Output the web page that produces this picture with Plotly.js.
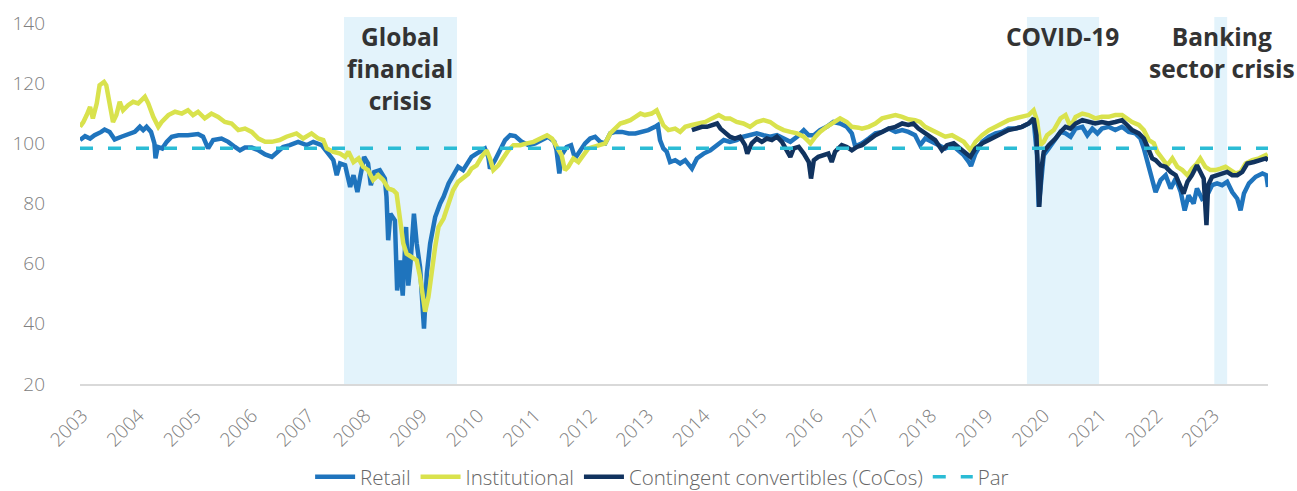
<!DOCTYPE html>
<html>
<head>
<meta charset="utf-8">
<script src="https://cdn.plot.ly/plotly-3.0.1.min.js"></script>
<style>
html,body{margin:0;padding:0;background:#fff;}
#chart{width:1297px;height:491px;}
</style>
</head>
<body>
<div id="chart"></div>
<script>
// ---- data (decimal years, index values) ----
const retailDates = [2003.05,2003.14,2003.23,2003.31,2003.43,2003.49,2003.58,2003.67,2003.79,2003.91,2004.03,2004.12,2004.18,2004.24,2004.32,2004.38,2004.40,2004.44,2004.52,2004.60,2004.69,2004.81,2004.98,2005.16,2005.25,2005.34,2005.43,2005.58,2005.70,2005.82,2005.91,2006.00,2006.12,2006.24,2006.36,2006.48,2006.57,2006.68,2006.80,2006.95,2007.10,2007.22,2007.37,2007.49,2007.58,2007.64,2007.70,2007.79,2007.88,2007.94,2008.01,2008.06,2008.13,2008.20,2008.25,2008.31,2008.41,2008.50,2008.53,2008.56,2008.60,2008.68,2008.72,2008.77,2008.82,2008.88,2008.92,2008.96,2009.02,2009.07,2009.13,2009.20,2009.25,2009.31,2009.40,2009.49,2009.55,2009.64,2009.72,2009.81,2009.90,2009.99,2010.05,2010.14,2010.23,2010.29,2010.35,2010.38,2010.47,2010.56,2010.65,2010.74,2010.83,2010.95,2011.07,2011.19,2011.31,2011.42,2011.53,2011.57,2011.62,2011.66,2011.75,2011.83,2011.90,2011.99,2012.08,2012.17,2012.26,2012.35,2012.44,2012.53,2012.62,2012.74,2012.86,2012.98,2013.10,2013.21,2013.33,2013.38,2013.42,2013.48,2013.54,2013.60,2013.69,2013.78,2013.87,2013.99,2014.08,2014.20,2014.32,2014.44,2014.56,2014.67,2014.79,2014.91,2015.03,2015.15,2015.27,2015.39,2015.51,2015.63,2015.75,2015.87,2015.99,2016.08,2016.17,2016.28,2016.40,2016.52,2016.64,2016.76,2016.85,2016.91,2017.03,2017.15,2017.27,2017.39,2017.51,2017.63,2017.75,2017.86,2017.98,2018.07,2018.16,2018.28,2018.40,2018.52,2018.64,2018.76,2018.85,2018.94,2018.98,2019.06,2019.18,2019.30,2019.42,2019.53,2019.65,2019.77,2019.89,2020.01,2020.10,2020.16,2020.19,2020.24,2020.28,2020.37,2020.49,2020.58,2020.67,2020.76,2020.85,2020.97,2021.06,2021.15,2021.24,2021.32,2021.44,2021.56,2021.68,2021.80,2021.92,2022.01,2022.07,2022.13,2022.19,2022.28,2022.37,2022.46,2022.55,2022.64,2022.73,2022.80,2022.87,2022.96,2023.02,2023.11,2023.20,2023.29,2023.38,2023.47,2023.56,2023.65,2023.74,2023.80,2023.86,2023.95,2024.07,2024.19,2024.26,2024.29];
const retailValues = [101.1,102.4,101.6,102.7,103.8,104.6,103.8,101.3,102.2,103.1,103.8,105.5,104.4,105.5,103.8,100.0,95.0,98.8,98.3,100.5,102.2,102.7,102.7,103.1,102.2,98.3,101.1,101.6,100.5,98.8,97.7,98.6,98.6,97.7,96.3,95.5,97.2,98.8,99.4,100.5,99.4,100.5,99.4,96.6,94.4,89.4,93.3,92.7,85.5,89.4,83.8,88.9,95.5,93.3,86.1,90.5,91.1,88.3,82.2,67.8,76.6,74.4,51.1,61.1,49.4,72.2,52.7,60.5,76.6,66.7,58.8,38.4,56.6,66.7,75.5,80.0,82.2,86.7,89.4,92.2,91.1,94.0,95.5,96.6,97.7,98.3,95.5,91.6,94.4,97.7,101.1,102.7,102.4,100.5,99.4,100.0,101.1,102.2,100.5,97.7,90.0,96.1,98.8,99.4,95.0,97.7,100.0,101.6,102.2,100.5,100.0,103.3,103.8,103.8,103.3,103.3,103.8,104.4,105.5,106.1,101.1,98.3,97.2,93.8,94.4,93.3,94.4,91.6,95.0,96.6,97.7,99.4,101.1,100.5,101.1,102.2,102.7,103.3,102.7,102.2,102.7,101.6,100.5,102.2,104.4,102.7,102.7,104.4,105.5,107.1,106.6,105.5,103.3,99.0,100.0,101.6,103.3,103.8,104.9,103.8,104.4,103.8,102.7,99.4,101.6,100.5,99.4,98.3,99.4,97.7,96.1,93.8,92.5,96.6,100.5,102.2,103.3,103.8,104.9,104.9,105.5,106.6,107.7,96.1,78.9,88.3,96.1,98.3,101.3,103.8,103.3,102.2,104.9,105.5,102.7,104.9,103.3,104.9,105.5,104.4,105.5,103.8,103.3,101.6,98.3,93.8,90.5,83.8,87.8,89.4,85.0,88.3,83.8,77.7,82.7,80.0,85.0,81.6,82.7,86.1,86.7,86.1,87.2,83.8,81.6,77.7,83.3,86.7,88.9,90.0,89.4,85.5];

const instDates = [2003.05,2003.11,2003.17,2003.23,2003.28,2003.35,2003.40,2003.48,2003.52,2003.58,2003.64,2003.70,2003.76,2003.82,2003.91,2004.00,2004.09,2004.15,2004.21,2004.27,2004.36,2004.45,2004.51,2004.63,2004.75,2004.87,2004.98,2005.07,2005.16,2005.28,2005.40,2005.52,2005.64,2005.76,2005.88,2006.00,2006.12,2006.24,2006.36,2006.48,2006.62,2006.74,2006.92,2007.04,2007.19,2007.31,2007.40,2007.46,2007.58,2007.70,2007.79,2007.85,2007.94,2008.03,2008.11,2008.20,2008.29,2008.38,2008.47,2008.56,2008.65,2008.71,2008.77,2008.83,2008.89,2008.98,2009.07,2009.13,2009.19,2009.22,2009.28,2009.34,2009.40,2009.46,2009.55,2009.64,2009.72,2009.81,2009.90,2009.99,2010.05,2010.14,2010.23,2010.32,2010.38,2010.44,2010.53,2010.62,2010.71,2010.80,2010.92,2011.04,2011.16,2011.28,2011.40,2011.49,2011.57,2011.66,2011.72,2011.78,2011.87,2011.96,2012.05,2012.14,2012.23,2012.32,2012.44,2012.53,2012.62,2012.71,2012.80,2012.89,2012.98,2013.07,2013.15,2013.27,2013.36,2013.42,2013.48,2013.57,2013.69,2013.78,2013.87,2013.99,2014.11,2014.23,2014.35,2014.47,2014.58,2014.67,2014.79,2014.91,2015.03,2015.15,2015.27,2015.39,2015.51,2015.63,2015.75,2015.87,2015.99,2016.11,2016.20,2016.28,2016.40,2016.52,2016.64,2016.76,2016.85,2016.97,2017.03,2017.15,2017.27,2017.39,2017.51,2017.63,2017.75,2017.86,2017.98,2018.07,2018.16,2018.28,2018.40,2018.52,2018.64,2018.76,2018.85,2018.97,2019.06,2019.18,2019.30,2019.42,2019.53,2019.65,2019.77,2019.89,2020.01,2020.10,2020.16,2020.22,2020.28,2020.34,2020.46,2020.58,2020.67,2020.76,2020.85,2020.97,2021.08,2021.20,2021.32,2021.44,2021.56,2021.68,2021.77,2021.86,2021.98,2022.07,2022.16,2022.25,2022.31,2022.40,2022.49,2022.58,2022.67,2022.76,2022.85,2022.93,2023.02,2023.08,2023.17,2023.26,2023.35,2023.44,2023.53,2023.62,2023.71,2023.80,2023.89,2024.01,2024.13,2024.25,2024.29];
const instValues = [105.5,107.1,109.4,112.1,108.3,113.3,119.3,120.4,119.3,112.1,107.1,109.4,113.8,111.0,112.7,113.8,113.3,114.4,115.5,113.3,108.8,105.5,107.1,109.4,110.5,109.9,111.0,109.4,110.5,108.3,109.9,108.8,107.1,106.6,104.4,104.9,103.8,101.6,100.5,100.5,101.1,102.2,103.3,101.6,103.3,101.6,101.1,98.3,97.2,96.6,95.5,97.2,93.8,95.0,92.2,91.1,87.8,89.4,87.8,85.0,84.4,83.3,75.5,66.7,63.3,62.2,61.1,55.6,49.0,44.0,49.0,57.8,65.6,72.2,75.0,80.0,84.4,87.2,88.3,89.8,91.6,92.7,95.5,97.7,95.0,91.1,92.7,95.5,97.7,99.4,99.4,100.0,100.5,101.6,102.7,101.6,98.8,96.1,91.1,92.2,95.0,93.8,96.1,98.3,98.8,99.4,100.0,103.3,104.9,106.6,107.1,107.7,108.8,109.9,109.4,109.9,111.0,108.3,106.0,104.4,104.9,103.8,105.5,106.1,106.6,107.1,108.3,109.4,108.3,108.3,107.1,106.6,105.5,107.1,107.7,107.1,105.5,104.4,103.8,103.3,102.2,100.0,102.2,103.8,105.5,107.1,108.3,107.1,105.5,105.2,104.9,105.5,106.6,108.3,108.8,109.4,108.8,108.0,107.7,107.1,105.5,104.4,103.3,102.2,102.7,101.6,100.5,97.7,100.5,102.7,104.4,105.5,106.6,107.7,108.3,108.8,109.4,111.0,107.7,99.4,100.5,102.7,104.4,108.3,109.4,105.5,108.8,109.9,109.4,108.3,108.8,108.8,109.4,109.4,108.3,107.1,106.1,104.4,101.1,100.0,97.2,95.0,92.7,95.0,92.2,91.1,89.4,91.6,93.3,95.0,92.2,91.1,91.1,91.6,92.2,91.1,90.0,90.5,93.3,94.4,95.0,96.1,95.0];

const cocoDates = [2013.99,2014.08,2014.17,2014.26,2014.35,2014.44,2014.50,2014.58,2014.67,2014.76,2014.85,2014.94,2014.98,2015.06,2015.15,2015.24,2015.33,2015.42,2015.51,2015.60,2015.69,2015.75,2015.81,2015.90,2015.99,2016.08,2016.12,2016.17,2016.25,2016.34,2016.43,2016.49,2016.55,2016.67,2016.76,2016.85,2016.94,2017.03,2017.15,2017.27,2017.39,2017.51,2017.63,2017.75,2017.86,2017.95,2018.04,2018.13,2018.22,2018.34,2018.46,2018.55,2018.67,2018.79,2018.91,2018.97,2019.06,2019.18,2019.30,2019.42,2019.53,2019.65,2019.77,2019.89,2020.01,2020.10,2020.15,2020.18,2020.20,2020.24,2020.28,2020.37,2020.49,2020.58,2020.67,2020.76,2020.85,2020.97,2021.08,2021.20,2021.32,2021.44,2021.56,2021.68,2021.77,2021.86,2021.98,2022.07,2022.16,2022.22,2022.28,2022.37,2022.46,2022.55,2022.64,2022.73,2022.78,2022.85,2022.93,2023.02,2023.08,2023.14,2023.19,2023.22,2023.29,2023.38,2023.47,2023.56,2023.65,2023.74,2023.83,2023.92,2024.04,2024.16,2024.25,2024.29];
const cocoValues = [104.4,104.9,105.5,105.5,106.1,106.6,104.9,103.8,102.2,101.6,102.2,99.4,96.6,100.0,101.6,100.5,101.6,101.1,102.2,100.5,97.7,95.5,98.3,98.8,96.6,93.8,88.3,94.4,95.5,96.1,96.6,93.8,97.2,99.4,98.8,97.7,98.8,99.4,101.1,102.7,103.8,104.9,105.5,106.6,106.1,106.6,104.9,103.8,102.7,101.1,97.7,99.4,100.0,98.3,96.6,95.5,98.3,100.0,101.1,102.2,103.3,104.4,104.9,105.5,106.6,108.3,102.7,88.3,78.9,91.6,97.2,99.4,101.6,103.8,105.5,104.9,106.6,107.7,107.1,106.6,107.1,106.6,107.1,107.7,106.1,104.4,103.3,101.6,97.7,95.0,94.4,92.7,92.2,90.5,89.4,85.5,83.3,87.2,89.4,92.7,90.5,88.3,72.8,86.1,88.9,89.4,90.0,90.5,89.4,89.4,90.5,93.3,93.8,94.4,95.0,94.4];

const parLevel = 98.4;
const parDates = [2003.05, 2024.29];

const crisisNames = ['Global<br>financial<br>crisis', 'COVID-19', 'Banking<br>sector crisis'];
const crisisStart = [2007.77, 2019.98, 2023.33];
const crisisEnd = [2009.79, 2021.27, 2023.56];
const crisisLabelX = [2008.77, 2020.61, 2023.47];

const yearLabels = ['2003','2004','2005','2006','2007','2008','2009','2010','2011','2012','2013','2014','2015','2016','2017','2018','2019','2020','2021','2022','2023'];

// ---- chart ----
const labelPos = yearLabels.map((s, i) => 2003.09 + i * 1.0115);
const FONT = '"Open Sans", Lato, sans-serif';

const traces = [
  {x: retailDates, y: retailValues, name: 'Retail', type: 'scatter', mode: 'lines',
   line: {color: '#1f74bd', width: 4.5}},
  {x: instDates, y: instValues, name: 'Institutional', type: 'scatter', mode: 'lines',
   line: {color: '#d9e24d', width: 4.5}},
  {x: cocoDates, y: cocoValues, name: 'Contingent convertibles (CoCos)', type: 'scatter', mode: 'lines',
   line: {color: '#11335f', width: 4.5}},
  {x: parDates, y: [parLevel, parLevel], name: 'Par', type: 'scatter', mode: 'lines',
   line: {color: '#2bbcd5', width: 3.5, dash: '13px,15px'}}
];

const shapes = crisisStart.map((s, i) => ({
  type: 'rect', xref: 'x', yref: 'paper', x0: s, x1: crisisEnd[i], y0: 0, y1: 1,
  fillcolor: '#e3f3fb', line: {width: 0}, layer: 'below'
}));

const annotations = crisisNames.map((t, i) => ({
  text: '<b>' + t + '</b>', x: crisisLabelX[i], xref: 'x', y: 0.997, yref: 'paper',
  xanchor: 'center', yanchor: 'top', showarrow: false, align: 'center',
  font: {family: FONT, size: 24.5, color: '#333333'}
}));

const layout = {
  width: 1297, height: 491,
  margin: {l: 80, r: 29, t: 17, b: 107, autoexpand: false},
  paper_bgcolor: '#ffffff', plot_bgcolor: '#ffffff',
  showlegend: true,
  legend: {orientation: 'h', x: 0.49, xanchor: 'center', y: -0.308, yanchor: 'bottom',
    font: {family: FONT, size: 20.5, color: '#666666', weight: 300},
    itemwidth: 40, tracegroupgap: 0},
  xaxis: {range: [2003.05, 2024.29], showgrid: false, zeroline: false,
    showline: true, linecolor: '#d9d9d9', linewidth: 2, automargin: false,
    tickmode: 'array', tickvals: labelPos, ticktext: yearLabels, tickangle: -45,
    ticks: '', ticklabelstandoff: 11,
    tickfont: {family: FONT, size: 19, color: '#808080', weight: 300}},
  yaxis: {range: [20, 142], tick0: 20, dtick: 20, showgrid: false, zeroline: false,
    showline: false, ticks: '', ticklabelstandoff: 34, automargin: false,
    tickfont: {family: FONT, size: 19, color: '#808080', weight: 300}},
  shapes: shapes,
  annotations: annotations
};

Plotly.newPlot('chart', traces, layout, {displayModeBar: false, staticPlot: true});
</script>
</body>
</html>
